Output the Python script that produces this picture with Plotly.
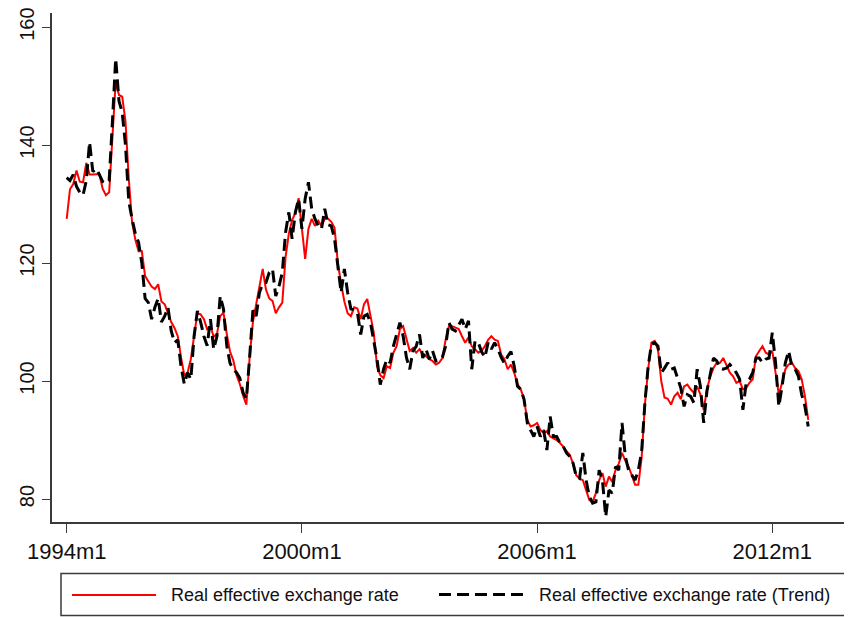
import plotly.graph_objects as go

# Monthly data, 1994m1 .. 2012m12
start_year = 1994
reer = [
    127.5, 132.5, 133.4, 135.7, 133.8, 133.7, 137.0, 135.0, 135.0, 135.0,
    135.1, 132.6, 131.5, 132.0, 141.0, 150.8, 148.5, 148.2, 144.0, 134.3,
    127.0, 124.0, 122.0, 122.0, 117.8, 117.0, 116.0, 115.6, 116.4, 113.5,
    113.0, 111.5, 110.0, 109.0, 107.6, 104.0, 101.0, 101.4, 103.7, 107.6,
    111.5, 111.3, 110.5, 108.8, 109.3, 107.5, 108.0, 111.0, 111.6, 108.0,
    105.0, 103.5, 101.0, 99.5, 97.5, 96.0, 104.0, 110.0, 113.0, 115.5,
    119.0, 115.5, 114.0, 113.6, 111.5, 112.5, 113.3, 121.0, 125.0, 127.3,
    128.5, 131.0, 126.3, 120.7, 125.8, 127.5, 126.3, 127.2, 126.3, 127.5,
    127.5, 127.0, 126.0, 120.0, 116.5, 113.5, 111.5, 111.0, 112.5, 112.3,
    110.5, 113.0, 113.9, 111.3, 108.2, 102.5, 101.0, 100.5, 102.5, 102.2,
    104.8, 105.9, 108.8, 109.3, 107.0, 105.1, 105.6, 104.8, 105.4, 104.5,
    104.2, 103.7, 103.4, 102.8, 103.1, 103.9, 107.0, 109.3, 109.3, 109.1,
    108.8, 107.6, 106.5, 107.4, 105.9, 105.4, 104.8, 105.1, 105.9, 107.0,
    107.6, 107.0, 106.8, 104.5, 103.7, 102.0, 102.8, 101.4, 99.5, 98.6,
    96.9, 93.4, 92.3, 92.5, 92.9, 91.7, 91.2, 91.5, 90.6, 90.3,
    90.0, 89.5, 88.9, 88.1, 87.5, 86.0, 84.0, 83.5, 83.2, 81.5,
    79.8, 79.5, 81.0, 83.2, 84.4, 82.1, 83.8, 82.9, 84.9, 86.0,
    87.8, 86.5, 85.5, 84.0, 82.4, 82.4, 87.0, 96.0, 102.0, 106.5,
    106.8, 105.4, 100.0, 97.2, 97.0, 96.0, 97.4, 98.0, 96.9, 99.1,
    99.4, 98.6, 98.0, 99.1, 97.7, 95.1, 98.6, 100.8, 102.2, 103.1,
    103.1, 103.9, 102.5, 101.4, 100.8, 99.7, 100.0, 98.6, 98.8, 99.7,
    100.3, 104.2, 105.1, 105.9, 104.8, 104.5, 105.1, 101.4, 97.7, 99.7,
    102.0, 102.8, 103.1, 102.2, 101.7, 100.3, 97.4, 93.4,
]
reer_trend = [
    134.5, 134.0, 135.0, 133.0, 132.0, 131.5, 134.0, 140.5, 135.5, 136.0,
    135.0, 133.8, 133.5, 134.0, 144.0, 154.7, 147.5, 145.5, 140.0, 130.5,
    127.5, 125.0, 123.5, 120.0, 114.0, 113.3, 110.5, 112.5, 114.0, 110.0,
    111.0, 112.5, 108.5, 106.5, 107.0, 102.5, 99.5, 101.4, 100.3, 107.6,
    111.9, 110.0, 107.6, 106.0, 110.5, 105.4, 107.6, 114.4, 112.2, 106.0,
    103.0, 102.0, 101.4, 100.5, 98.0, 97.0, 104.0, 112.0, 111.0, 115.0,
    116.5, 116.7, 118.4, 119.0, 114.4, 116.1, 118.4, 125.2, 128.6, 124.1,
    128.6, 130.9, 125.8, 130.9, 133.7, 129.2, 127.5, 126.3, 125.8, 129.2,
    126.5, 126.3, 124.1, 119.0, 115.0, 119.0, 115.0, 112.2, 112.1, 111.6,
    107.9, 111.0, 111.3, 109.9, 107.0, 103.7, 99.4, 102.0, 103.7, 103.1,
    105.9, 108.0, 109.9, 107.6, 104.0, 102.0, 105.1, 105.9, 107.9, 103.9,
    105.4, 103.7, 105.1, 103.4, 103.5, 104.0, 105.9, 109.9, 108.8, 108.5,
    109.5, 110.5, 108.8, 110.2, 102.0, 106.8, 106.5, 105.0, 104.0, 106.5,
    105.4, 106.5, 105.5, 104.0, 103.0, 104.2, 105.0, 102.5, 99.1, 98.6,
    96.9, 92.9, 91.7, 90.6, 92.3, 90.6, 91.7, 88.3, 94.0, 90.6,
    90.6, 89.5, 88.9, 87.8, 87.2, 86.1, 83.8, 83.5, 87.8, 83.2,
    80.4, 79.3, 79.5, 84.9, 83.2, 77.0, 81.5, 81.0, 85.5, 84.9,
    92.9, 87.2, 84.9, 84.1, 83.2, 84.9, 88.0, 96.3, 102.5, 106.2,
    106.5, 105.9, 101.4, 102.2, 103.1, 102.0, 102.2, 100.5, 98.8, 95.7,
    97.7, 97.4, 96.3, 102.0, 99.1, 92.9, 98.3, 101.1, 103.9, 103.4,
    102.2, 102.0, 102.2, 102.8, 102.2, 101.4, 100.3, 95.1, 99.7, 100.3,
    101.4, 103.9, 103.9, 103.1, 103.7, 103.9, 108.2, 103.1, 95.7, 99.1,
    103.1, 105.1, 102.5, 102.0, 100.8, 97.7, 95.7, 92.3,
]
tick_labels = ["1994m1", "2000m1", "2006m1", "2012m1"]
y_ticks = [80, 100, 120, 140, 160]

months = list(range(len(reer)))
tick_vals = [(int(lbl[:4]) - start_year) * 12 for lbl in tick_labels]

FONT = "Arial, Liberation Sans, Helvetica, sans-serif"
AX = "#3a3a3a"

fig = go.Figure()
fig.add_trace(go.Scatter(x=months, y=reer, mode="lines",
                         name="Real effective exchange rate",
                         line=dict(color="#ff0000", width=2)))
fig.add_trace(go.Scatter(x=months, y=reer_trend, mode="lines",
                         name="Real effective exchange rate (Trend)",
                         line=dict(color="#000000", width=3, dash="12px,6px")))

# the page body adds an 8px offset, so the figure is 8px smaller on each side
fig.update_layout(
    width=844, height=609,
    margin=dict(l=44, r=0, t=5, b=95, autoexpand=False),
    paper_bgcolor="white", plot_bgcolor="white",
    showlegend=False,
    font=dict(family=FONT, color="#111111"),
    xaxis=dict(range=[-4.5, 240.4], tickvals=tick_vals, ticktext=tick_labels,
               automargin=False, ticklabeloverflow="allow",
               showgrid=False, zeroline=False, showline=True, linecolor=AX,
               linewidth=1.5, ticks="outside", ticklen=9, tickcolor=AX,
               tickwidth=1.2, tickfont=dict(size=22, family=FONT)),
    yaxis=dict(range=[76.1, 162.4], tickvals=y_ticks, automargin=False,
               ticklabeloverflow="allow",
               showgrid=False, zeroline=False, showline=True, linecolor=AX,
               linewidth=1.5, ticks="outside", ticklen=8, tickcolor=AX,
               tickwidth=1.2, tickangle=-90, tickfont=dict(size=20, family=FONT)),
)

# Legend box (Stata style), drawn in paper coordinates below the plot
def px_x(p):
    return (p - 52) / 800.0

def px_y(p):
    return (522 - p) / 509.0

fig.add_shape(type="rect", xref="paper", yref="paper",
              x0=px_x(61), x1=px_x(848), y0=px_y(615.5), y1=px_y(573.5),
              line=dict(color=AX, width=1.5), fillcolor="white")
fig.add_shape(type="line", xref="paper", yref="paper",
              x0=px_x(72), x1=px_x(156), y0=px_y(595), y1=px_y(595),
              line=dict(color="#ff0000", width=2))
fig.add_shape(type="line", xref="paper", yref="paper",
              x0=px_x(439), x1=px_x(524), y0=px_y(594.5), y1=px_y(594.5),
              line=dict(color="#000000", width=3, dash="12px,6px"))
fig.add_annotation(xref="paper", yref="paper", x=px_x(169), y=px_y(595),
                   text=fig.data[0].name, showarrow=False, xanchor="left",
                   yanchor="middle", font=dict(size=18, family=FONT, color="#111111"))
fig.add_annotation(xref="paper", yref="paper", x=px_x(537), y=px_y(595),
                   text=fig.data[1].name, showarrow=False, xanchor="left",
                   yanchor="middle", font=dict(size=18, family=FONT, color="#111111"))

fig.write_html("out.html")
